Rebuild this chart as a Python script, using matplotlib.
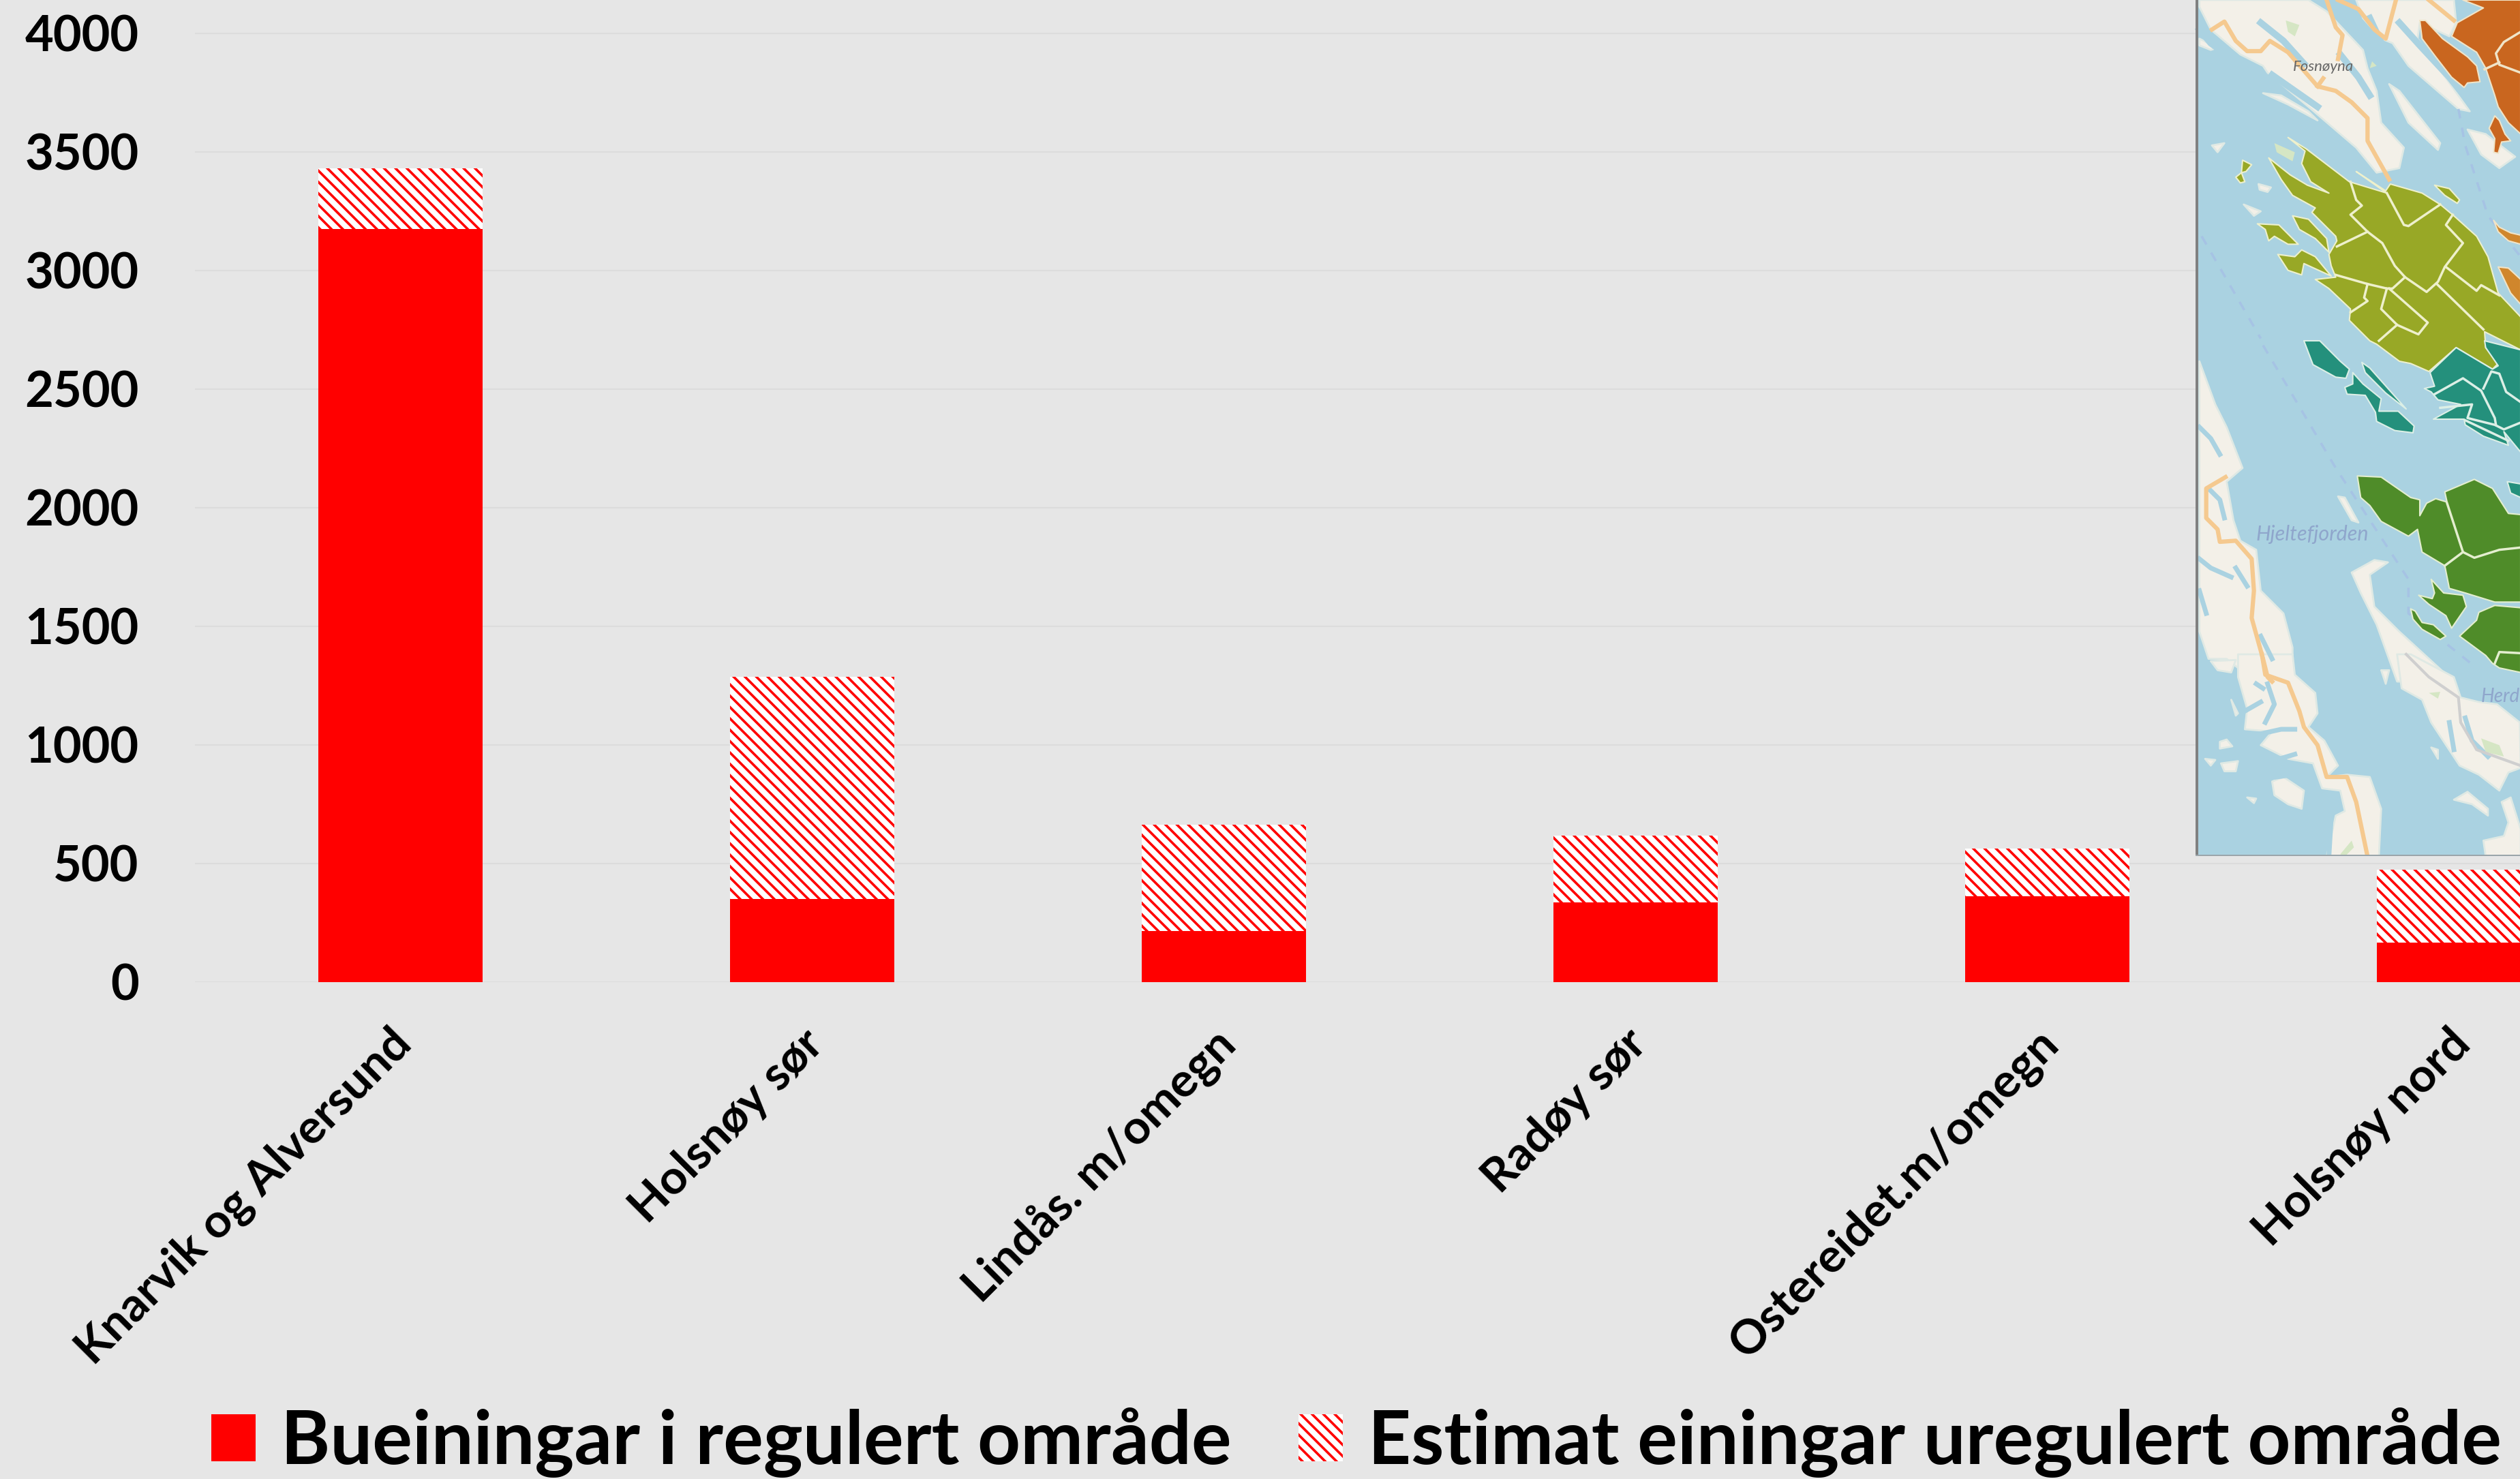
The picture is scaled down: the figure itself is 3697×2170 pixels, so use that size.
# Imports
import matplotlib
matplotlib.use('Agg')
import numpy as np
import matplotlib.pyplot as plt
from matplotlib.patches import Polygon, Rectangle
from matplotlib.transforms import ScaledTranslation

# Chart data
areas = ['Knarvik og Alversund', 'Holsnøy sør', 'Lindås. m/omegn', 'Radøy sør', 'Ostereidet.m/omegn', 'Holsnøy nord']
regulated = [3175, 350, 215, 335, 362, 165]
unregulated = [255, 937, 449, 281, 200, 309]
y_ticks = [0, 500, 1000, 1500, 2000, 2500, 3000, 3500, 4000]
label_regulated = 'Bueiningar i regulert område'
label_unregulated = 'Estimat einingar uregulert område'

# Map inset shapes: (x, y) in crop pixels, offset in to_px
orange_top = [
    [(1215,100),(1330,35),(1240,0),(1494,0),(1494,590),(1440,540),(1395,470),(1380,420),(1340,300),(1300,230),(1190,160)],
    [(1050,90),(1075,90),(1150,170),(1260,250),(1300,290),(1315,360),(1260,365),(1245,385),(1190,340),(1120,250),(1060,170)],
    [(1380,510),(1400,530),(1425,590),(1450,620),(1410,625),(1395,675),(1375,670),(1380,610),(1355,565)],
]
orange_borders = [
    [(1494,140),(1420,185),(1385,235),(1400,285),(1494,320)],
    [(1400,275),(1335,305)],
]
light_orange_top = [
    [(1375,970),(1400,1000),(1450,1025),(1494,1035),(1494,1075),(1440,1060),(1395,1020)],
    [(1395,1175),(1440,1180),(1494,1230),(1494,1340),(1450,1290)],
]
olive_top = [
    [(385,695),(440,790),(490,860),(590,915),(575,935),(680,1040),(685,1060),(650,1120),(660,1170),(680,1220),(590,1230),
     (650,1270),(745,1360),(740,1410),(830,1500),(860,1515),(960,1590),(1010,1600),(1090,1635),(1210,1530),(1370,1625),
     (1395,1600),(1340,1530),(1335,1460),(1494,1540),(1494,1395),(1395,1290),(1350,1130),(1300,1040),(1200,950),
     (1140,900),(1060,850),(920,810),(900,840),(770,755),(905,850),(740,800),(550,655),(470,605),(545,665),(530,720),(570,800),(650,850),(555,815),(480,770)],
    [(335,985),(430,990),(515,1075),(470,1075),(410,1040),(385,1060),(370,1010)],
    [(490,950),(560,965),(640,1050),(650,1110),(590,1050),(520,1010)],
    [(425,1120),(500,1130),(530,1100),(590,1130),(660,1215),(540,1160),(530,1210),(470,1190)],
    [(1115,815),(1180,830),(1225,880),(1215,895),(1160,860)],
    [(270,705),(310,725),(285,755),(265,760)],
    [(240,780),(265,760),(280,800),(260,805)],
]
olive_borders = [
    [(745,800),(770,880),(795,905),(745,945),(820,1020),(885,1070),(940,1170),(985,1220),(1080,1285),(1130,1240),(1160,1175),(1240,1070),(1165,990),(1195,945)],
    [(1140,900),(1000,995),(980,990),(905,850)],
    [(820,1020),(685,1085)],
    [(985,1220),(930,1270),(905,1270),(820,1250),(680,1210)],
    [(820,1250),(805,1310),(820,1325),(745,1375)],
    [(905,1270),(880,1360),(950,1430),(1040,1470)],
    [(915,1270),(1085,1420),(1045,1470)],
    [(950,1430),(870,1500)],
    [(1125,1250),(1330,1450)],
    [(1165,1175),(1300,1280),(1320,1255),(1400,1300)],
]
teal_mid = [
    [(540,0),(610,0),(700,90),(740,125),(725,165),(680,160),(580,105)],
    [(755,140),(800,190),(880,255),(870,310),(955,310),(1025,375),(1020,405),(940,395),(860,355),(855,315),(810,240),(730,235),(720,205),(755,190)],
    [(795,95),(830,120),(990,300),(900,230),(810,140)],
    [(1095,140),(1210,30),(1370,125),(1395,110),(1340,30),(1335,0),(1494,40),(1494,490),(1420,400),(1440,460),(1330,420),(1250,370),(1245,345),(1110,345),(1230,280),(1130,260),(1100,225),(1070,210),(1115,200)],
    [(1435,620),(1494,630),(1494,690),(1450,670)],
]
teal_borders = [
    [(1115,235),(1240,165),(1320,220),(1380,340),(1385,370)],
    [(1330,210),(1365,135),(1400,145),(1430,225),(1494,270)],
    [(1140,295),(1280,280),(1260,340),(1380,370),(1420,390),(1494,360)],
    [(1250,350),(1440,440)],
]
green_mid = [
    [(775,595),(880,600),(1010,690),(1050,700),(1050,770),(1080,715),(1120,695),(1170,710),(1160,665),(1290,610),(1370,650),(1440,760),(1494,765),(1494,1150),(1380,1150),(1250,1110),(1180,1090),(1160,990),(1060,930),(1040,830),(1000,860),(880,795),(830,725),(790,690)],
    [(1380,1165),(1494,1175),(1494,1460),(1400,1440),(1370,1420),(1340,1385),(1225,1300),(1300,1230),(1310,1195)],
    [(1100,1050),(1155,1110),(1240,1120),(1255,1170),(1190,1265),(1165,1210),(1090,1160),(1045,1120),(1105,1135),(1115,1110)],
    [(1010,1180),(1030,1190),(1060,1240),(1110,1250),(1165,1300),(1140,1315),(1060,1270),(1020,1225)],
]
green_borders = [
    [(1170,715),(1240,930),(1160,990)],
    [(1240,930),(1290,955),(1400,920),(1494,910)],
    [(1380,1420),(1400,1370),(1494,1375)],
]
land_top = [
    [(80,30),(130,130),(260,240),(360,290),(380,320),(560,470),(770,650),(860,760),(960,740),(980,650),(880,540),(860,400),(820,300),(800,220),(640,50),(560,0),(80,0)],
    [(915,370),(960,400),(1140,630),(1130,660),(1000,540)],
    [(770,0),(1200,0),(1210,100),(1180,160),(1050,100),(1040,170),(1270,490),(1220,480),(1000,290),(930,190),(880,170),(800,80)],
    [(80,170),(160,210),(130,220),(80,200)],
    [(360,410),(440,420),(560,490),(600,530),(470,460)],
    [(275,900),(350,930),(320,950)],
    [(1260,570),(1340,590),(1470,690),(1400,740),(1320,680)],
    [(340,810),(395,825),(380,845),(345,835)],
    [(135,640),(190,630),(160,670)],
]
land_mid = [
    [(80,90),(150,280),(200,380),(270,560),(200,620),(230,790),(260,880),(330,920),(350,1100),(450,1200),(490,1350),(490,1440),(250,1440),(200,1400),(120,1400),(80,1280)],
    [(690,685),(720,690),(780,800),(750,790)],
    [(750,1020),(850,965),(910,975),(830,1030),(850,1170),(960,1280),(1200,1500),(950,1500),(860,1250),(790,1110)],
]
land_bottom = [
    [(130,30),(240,25),(220,80),(160,70)],
    [(250,0),(490,0),(500,90),(590,170),(600,260),(560,320),(630,380),(690,490),(640,540),(730,530),(830,540),(880,680),(870,890),(640,890),(680,710),(720,690),(700,600),(620,590),(580,480),(470,460),(350,400),(400,340),(280,330),(290,240),(250,100)],
    [(400,560),(450,540),(540,600),(530,680),(470,660),(410,620)],
    [(170,385),(200,375),(225,405),(170,415)],
    [(105,460),(150,465),(130,490)],
    [(175,480),(250,470),(240,515),(190,515)],
    [(290,630),(330,635),(320,655)],
    [(220,200),(250,260),(240,270)],
    [(950,0),(1010,0),(1200,100),(1230,190),(1310,210),(1390,220),(1490,300),(1494,500),(1440,520),(1400,600),(1310,530),(1225,490),(1100,300),(1060,200),(970,150)],
    [(1200,640),(1260,605),(1350,680),(1350,710),(1280,660)],
    [(1410,650),(1450,630),(1494,770),(1494,890),(1340,890),(1330,820),(1420,800),(1440,740)],
    [(1100,410),(1130,420),(1130,460)],
    [(880,70),(915,70),(900,130)],
]
# Sea running through the land, this breaks the islands up
sea_cuts_top = [
    [(830,80),(900,230),(960,350),(1060,470),(1130,570)],
    [(80,130),(130,190),(240,270),(350,330)],
    [(400,330),(500,400),(600,470)],
    [(960,100),(1050,200),(1180,340),(1260,440)],
    [(700,240),(780,340),(830,420)],
    [(350,100),(450,180),(540,280)],
]
sea_cuts_mid = [
    [(80,380),(130,430),(170,500)],
    [(120,650),(170,700),(190,780)],
    [(80,960),(130,1000),(220,1040)],
    [(240,1000),(290,1080)],
    [(80,1100),(110,1200)],
    [(350,1300),(400,1400)],
]
sea_cuts_bottom = [
    [(380,130),(410,220),(370,300)],
    [(280,250),(350,210)],
    [(500,330),(440,330),(350,350)],
    [(330,130),(360,150)],
    [(1180,300),(1200,420)],
    [(1250,280),(1280,380),(1350,450)],
    [(400,470),(500,440)],
    [(420,540),(560,520)],
    [(660,720),(650,890)],
]
woods_top = [
    [(460,90),(520,110),(500,160),(470,140)],
    [(410,630),(500,670),(490,710),(420,670)],
    [(860,290),(840,270),(830,300)],
]
woods_bottom = [
    [(1090,170),(1140,165),(1130,195)],
    [(1320,370),(1400,400),(1420,450),(1340,430)],
    [(700,880),(750,820),(760,850),(720,890)],
]
roads_top = [
    [(135,130),(190,95),(240,180),(290,225),(350,225),(390,180),(470,230),(600,380),(680,400),(750,450),(820,520),(820,620),(915,790)],
    [(640,0),(680,120),(710,155),(690,260)],
    [(690,0),(780,40),(850,130),(900,170),(945,0)],
    [(1090,0),(1200,90)],
    [(600,380),(625,345)],
]
roads_mid = [
    [(195,600),(110,650),(110,780),(160,830),(170,885),(240,880),(310,960),(320,1100),(310,1220),(360,1400),(380,1480),(400,1500)],
]
roads_bottom = [
    [(355,0),(370,90),(470,125),(520,250),(540,320),(600,400),(640,540),(730,540),(770,650),(820,890)],
]
grey_roads_bottom = [
    [(990,0),(1090,100),(1220,190),(1230,300),(1300,420),(1494,490)],
]
channels_mid = [
    [(360,20),(680,560),(1000,1050),(1000,1200),(1300,1440)],
]
channels_top = [
    [(90,1040),(350,1490)],
    [(1220,480),(1250,640),(1350,950),(1494,1130)],
]


# Crop pixels to figure pixels
def to_px(points, oy):
    return [(3200 + x / 3, oy + y / 3) for x, y in points]


plt.rcParams['font.family'] = ['Lato', 'DejaVu Sans']
plt.rcParams['font.weight'] = 'bold'
plt.rcParams['hatch.linewidth'] = 2.6

bg = '#e6e6e6'
sea = '#aad2e1'
fig = plt.figure(figsize=(36.98, 21.70), dpi=100, facecolor=bg)

# Main axes, it runs off the top and right of the picture
ax = fig.add_axes([285.5 / 3698, (2170 - 1440.7) / 2170, 1 - 285.5 / 3698, 1440.7 / 2170], facecolor=bg)
x = np.arange(len(areas))
ax.bar(x, regulated, width=0.4, color='#ff0000', linewidth=0, label=label_regulated)
ax.bar(x, unregulated, width=0.4, bottom=regulated, facecolor='white', edgecolor='#ff0000',
       hatch='\\\\', linewidth=0, label=label_unregulated)

ax.set_xlim(-0.5, 5.15)
ax.set_ylim(0, 1440.7 / 0.348)
ax.set_yticks(y_ticks)
ax.set_xticks(x)
ax.set_xticklabels(areas, rotation=45, ha='right', va='top', rotation_mode='anchor')
ax.tick_params(axis='y', length=0, pad=59, labelsize=52)
ax.tick_params(axis='x', length=0, pad=42, labelsize=50)
shift = ScaledTranslation(-0.16, 0, fig.dpi_scale_trans)
for tick_label in ax.get_xticklabels():
    tick_label.set_transform(tick_label.get_transform() + shift)
ax.grid(axis='y', color='#dcdcdc', linewidth=1.5)
ax.set_axisbelow(True)
for side in ax.spines:
    ax.spines[side].set_visible(False)

# Legend
fig.legend(loc='lower left', bbox_to_anchor=(310 / 3698, 1 - 2168 / 2170), ncol=2, frameon=False,
           fontsize=79, borderpad=0, borderaxespad=0, handlelength=0.59, handleheight=0.59,
           handletextpad=0.34, columnspacing=0.9)

# Map inset
mp = fig.add_axes([3212 / 3698, 1 - 1256 / 2170, 486 / 3698, 1256 / 2170], facecolor=bg, zorder=5)
mp.set_xlim(3212, 3698)
mp.set_ylim(1256, 0)
mp.axis('off')
mp.add_patch(Rectangle((3221, 0), 477, 1256, facecolor=sea, edgecolor='none'))


def shapes(items, oy, color, edge='none', lw=0, z=2):
    for pts in items:
        mp.add_patch(Polygon(to_px(pts, oy), closed=True, facecolor=color, edgecolor=edge, linewidth=lw,
                             joinstyle='round', zorder=z))


def lines(items, oy, color, lw, z=3, ls='-'):
    for pts in items:
        px = np.array(to_px(pts, oy))
        mp.plot(px[:, 0], px[:, 1], color=color, linewidth=lw, linestyle=ls, zorder=z, solid_joinstyle='round')


shapes(land_top, 0, '#f3f0e8', '#dfe9e4', 2)
shapes(land_mid, 500, '#f3f0e8', '#dfe9e4', 2)
shapes(land_bottom, 960, '#f3f0e8', '#dfe9e4', 2)
lines(sea_cuts_top, 0, sea, 7, z=2.2)
lines(sea_cuts_mid, 500, sea, 5, z=2.2)
lines(sea_cuts_bottom, 960, sea, 5, z=2.2)
shapes(woods_top, 0, '#d5e6c4', z=2.4)
shapes(woods_bottom, 960, '#d5e6c4', z=2.4)
lines(channels_top, 0, '#a6c3e4', 2.5, ls=(0, (4, 4)))
lines(channels_mid, 500, '#a6c3e4', 2.5, ls=(0, (4, 4)))
lines(grey_roads_bottom, 960, '#cfcfcf', 3)
lines(roads_top, 0, '#f5c98f', 4.5)
lines(roads_mid, 500, '#f5c98f', 4.5)
lines(roads_bottom, 960, '#f5c98f', 4.5)
shapes(orange_top, 0, '#c9661f', '#f0e4c8', 1.5, 4)
shapes(light_orange_top, 0, '#d0862c', '#f0e4c8', 1.5, 4)
shapes(olive_top, 0, '#98a826', '#eef0cc', 1.5, 4)
shapes(teal_mid, 500, '#24907c', '#dcefe6', 1.5, 4)
shapes(green_mid, 500, '#4f8c29', '#e4eecf', 1.5, 4)
lines(orange_borders, 0, '#f0e4c8', 2.5, z=5)
lines(olive_borders, 0, '#eef0cc', 2.5, z=5)
lines(teal_borders, 500, '#dcefe6', 2.5, z=5)
lines(green_borders, 500, '#e4eecf', 2.5, z=5)
mp.text(3408, 98, 'Fosnøyna', fontsize=16, style='italic', color='#666666', ha='center', va='center', zorder=6, fontweight='normal')
mp.text(3392, 784, 'Hjeltefjorden', fontsize=22, style='italic', color='#8fa6cc', ha='center', va='center', zorder=6, fontweight='normal')
mp.text(3697, 1022, 'Herd', fontsize=20, style='italic', color='#8fa6cc', ha='right', va='center', zorder=6, fontweight='normal')
mp.add_patch(Rectangle((3221, 0), 4, 1256, facecolor='#808080', edgecolor='none', zorder=7))
mp.add_patch(Rectangle((3221, 1254), 477, 2, facecolor='#9aa5aa', edgecolor='none', zorder=7))

plt.savefig('out.png', dpi=100, facecolor=bg)
